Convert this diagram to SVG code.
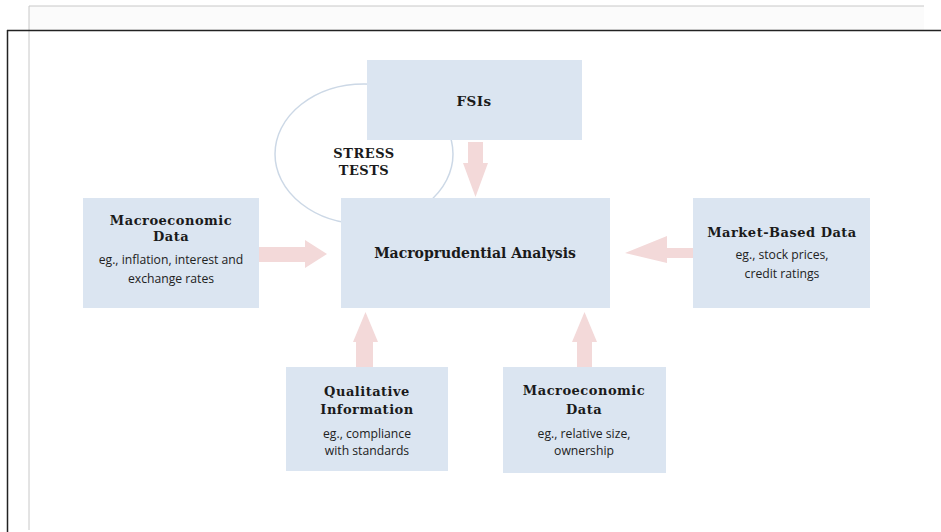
<svg xmlns="http://www.w3.org/2000/svg" width="941" height="532" viewBox="0 0 941 532">
<style>
.box{fill:#dbe5f1}
.arr{fill:#f3d9d9}
.t{font-family:"DejaVu Serif","Liberation Serif",serif;font-weight:bold;fill:#1a1a1a;text-anchor:middle;letter-spacing:0.5px}
.s{font-family:"Open Sans","Liberation Sans",sans-serif;font-size:12.2px;fill:#222;text-anchor:middle}
</style>
<rect x="0" y="0" width="941" height="532" fill="#ffffff"/>
<rect x="29" y="6" width="895" height="24" fill="#fbfbfb"/>
<line x1="29" y1="6" x2="924" y2="6" stroke="#c8c8c8" stroke-width="1"/>
<line x1="29" y1="6" x2="29" y2="530" stroke="#c8c8c8" stroke-width="1"/>
<line x1="7" y1="30.5" x2="941" y2="30.5" stroke="#222" stroke-width="1.5"/>
<line x1="7.5" y1="30" x2="7.5" y2="532" stroke="#222" stroke-width="1.5"/>

<g id="stress-tests">
<ellipse cx="364" cy="154" rx="89" ry="70" fill="none" stroke="#ccd8e6" stroke-width="1.5"/>
<rect x="329" y="144" width="70" height="36" fill="#ffffff"/>
<text class="t" x="364" y="158" font-size="13">STRESS</text>
<text class="t" x="364" y="175" font-size="13">TESTS</text>
</g>

<g id="connectors">
<polygon class="arr" points="468,142 483,142 483,163 488,163 475.5,197 463,163 468,163"/>
<polygon class="arr" points="259,247 305,247 305,240 327,254 305,268 305,262 259,262"/>
<polygon class="arr" points="693,248 667,248 667,236 625,253 667,263 667,258 693,258"/>
<polygon class="arr" points="356,367 356,342 353,342 365.5,312 378,342 373,342 373,367"/>
<polygon class="arr" points="577,367 577,342 572,342 584.5,312 597,342 592,342 592,367"/>
</g>

<g id="fsis">
<rect class="box" x="367" y="60" width="215" height="80"/>
<text class="t" x="474" y="106" font-size="13.5">FSIs</text>
</g>

<g id="macroprudential">
<rect class="box" x="341" y="198" width="269" height="110"/>
<text class="t" x="475" y="258" font-size="14" style="letter-spacing:0">Macroprudential Analysis</text>
</g>

<g id="macro-left">
<rect class="box" x="83" y="198" width="176" height="110"/>
<text class="t" x="171" y="225" font-size="13">Macroeconomic</text>
<text class="t" x="171" y="241" font-size="13">Data</text>
<text class="s" x="171" y="264">eg., inflation, interest and</text>
<text class="s" x="171" y="283">exchange rates</text>
</g>

<g id="market">
<rect class="box" x="693" y="198" width="177" height="110"/>
<text class="t" x="782" y="237" font-size="13">Market-Based Data</text>
<text class="s" x="782" y="259">eg., stock prices,</text>
<text class="s" x="782" y="278">credit ratings</text>
</g>

<g id="qualitative">
<rect class="box" x="286" y="367" width="162" height="104"/>
<text class="t" x="367" y="396" font-size="13">Qualitative</text>
<text class="t" x="367" y="414" font-size="13">Information</text>
<text class="s" x="367" y="438">eg., compliance</text>
<text class="s" x="367" y="455">with standards</text>
</g>

<g id="macro-bottom">
<rect class="box" x="503" y="367" width="163" height="106"/>
<text class="t" x="584" y="395" font-size="13">Macroeconomic</text>
<text class="t" x="584" y="414" font-size="13">Data</text>
<text class="s" x="584" y="438">eg., relative size,</text>
<text class="s" x="584" y="455">ownership</text>
</g>
</svg>
